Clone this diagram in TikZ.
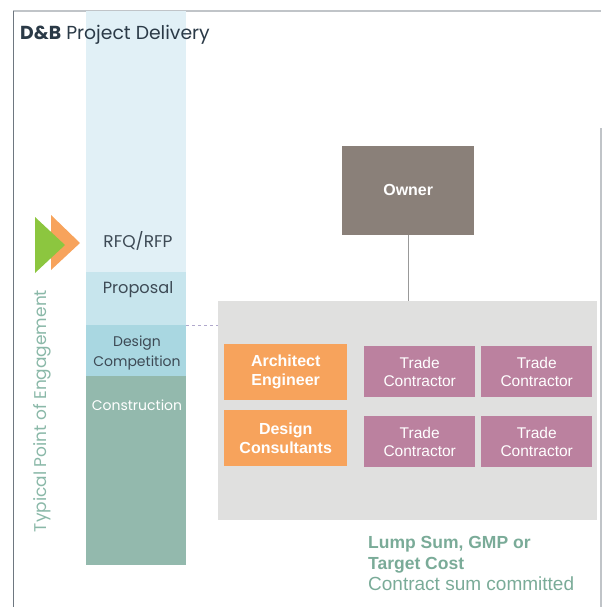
\documentclass[tikz,border=0pt]{standalone}
\usepackage{fontspec}
\setmainfont{Poppins}
\newfontfamily\boxfont{Liberation Sans}
\definecolor{titlec}{HTML}{2B3A47}
\definecolor{colA}{HTML}{E1F0F6}
\definecolor{colB}{HTML}{C7E5ED}
\definecolor{colC}{HTML}{A9D7E1}
\definecolor{colD}{HTML}{93B9AD}
\definecolor{labc}{HTML}{3D4A55}
\definecolor{greentri}{HTML}{8CC63F}
\definecolor{orangec}{HTML}{F7A35C}
\definecolor{vlab}{HTML}{8AB8A8}
\definecolor{grayfill}{HTML}{E0E0DF}
\definecolor{ownerc}{HTML}{8A8079}
\definecolor{mauve}{HTML}{BB819F}
\definecolor{botc}{HTML}{7AAB98}
\definecolor{framec}{HTML}{C0C4C8}
\definecolor{leftc}{HTML}{6E7780}
\definecolor{dashc}{HTML}{B0A8CC}
\tikzset{
  colbox/.style={draw=none, minimum width=100pt, anchor=north west, inner sep=0pt, outer sep=0pt},
  orgbox/.style={fill=orangec, text=white, font=\boxfont\bfseries\fontsize{16}{19}\selectfont, align=center, minimum width=123pt, minimum height=56pt, anchor=north west, inner sep=0pt},
  tradebox/.style={fill=mauve, text=white, font=\boxfont\fontsize{15.5}{18}\selectfont, align=center, minimum width=111pt, minimum height=51pt, anchor=north west, inner sep=0pt},
}
\begin{document}
\begin{tikzpicture}[x=1pt,y=-1pt]
\useasboundingbox (0,0) rectangle (606,607);
% frame
\draw[framec, line width=1.2pt] (13,11) -- (601,11);
\draw[leftc, line width=1pt] (13,11) -- (13,607);
\draw[framec, line width=1.5pt] (601,128) -- (601,607);
% column
\node[colbox, fill=colA, minimum height=261pt] (rfq) at (86,11) {};
\node[colbox, fill=colB, minimum height=53pt] (prop) at (86,272) {};
\node[colbox, fill=colC, minimum height=51pt] (dc) at (86,325) {};
\node[colbox, fill=colD, minimum height=189pt] (cons) at (86,376) {};
\node[text=labc, font=\fontsize{17}{18}\selectfont] (rfqt) at (138,241) {RFQ/RFP};
\node[text=labc, font=\fontsize{16.2}{18}\selectfont] (propt) at (138,290) {Proposal};
\node[text=labc, font=\fontsize{14}{20}\selectfont, align=center] (dct) at (137,353) {Design\\Competition};
\node[text=white, font=\fontsize{14}{16}\selectfont] (const) at (137,405) {Construction};
% title
\node[anchor=west, text=titlec, font=\fontsize{18.8}{22}\selectfont, inner sep=0pt] (title) at (20,35) {\textbf{D\&B} Project Delivery};
% arrows
\fill[orangec] (51,215) -- (80,243) -- (51,270) -- cycle;
\fill[greentri] (35,217) -- (65,245) -- (35,273) -- cycle;
% vertical label
\node[rotate=90, text=vlab, font=\fontsize{17}{20}\selectfont] (vl) at (42,411) {Typical Point of Engagement};
% gray box
\node[fill=grayfill, minimum width=379pt, minimum height=219pt, anchor=north west, inner sep=0pt] (gray) at (218,301) {};
\coordinate (dashend) at (218,325);
\draw[dashc, dashed, line width=0.8pt] (dc.north east) -- (dashend);
% owner
\node[fill=ownerc, text=white, font=\boxfont\bfseries\fontsize{16}{18}\selectfont, minimum width=132pt, minimum height=89pt, anchor=north west, inner sep=0pt] (owner) at (342,146) {\raisebox{2pt}{Owner}};
\draw[gray!80, line width=0.8pt] (owner.south) -- (owner.south |- gray.north);
% org boxes
\node[orgbox] (arch) at (224,344) {Architect\\Engineer};
\node[orgbox] (dcons) at (224,410) {Design\\Consultants};
\node[tradebox] (t1) at (364,346) {Trade\\Contractor};
\node[tradebox] (t2) at (481,346) {Trade\\Contractor};
\node[tradebox] (t3) at (364,416) {Trade\\Contractor};
\node[tradebox] (t4) at (481,416) {Trade\\Contractor};
% bottom text
\node[anchor=north west, text=botc, align=left, inner sep=0pt, font=\boxfont\fontsize{17.5}{21}\selectfont] (bot) at (368,536) {\textbf{Lump Sum, GMP or}\\\textbf{Target Cost}\\{\fontsize{19}{21}\selectfont Contract sum committed}};
\end{tikzpicture}
\end{document}
